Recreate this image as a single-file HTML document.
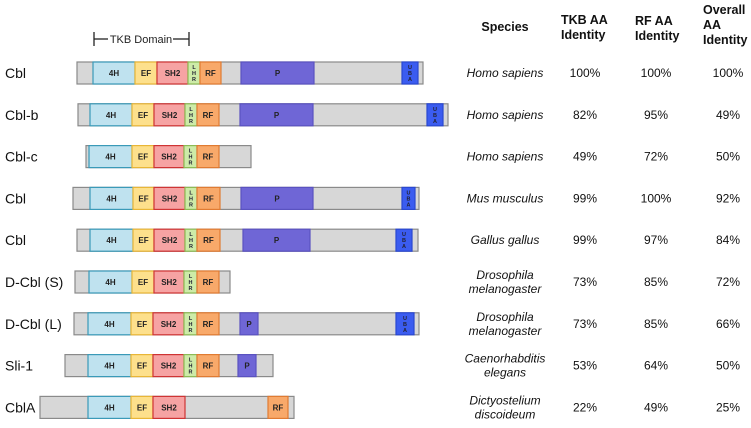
<!DOCTYPE html>
<html><head><meta charset="utf-8">
<style>
body{margin:0;background:#fff;font-family:"Liberation Sans",Arial,sans-serif;}
svg{display:block}
</style></head><body>
<svg id="c" width="751" height="428" viewBox="0 0 751 428">
<g stroke="#222" stroke-width="1.3">
<line x1="94" y1="32" x2="94" y2="46"/><line x1="94" y1="39" x2="108" y2="39"/>
<line x1="173" y1="39" x2="189" y2="39"/><line x1="189" y1="32" x2="189" y2="46"/>
</g>
<text x="141" y="43" font-size="11" text-anchor="middle" fill="#222">TKB Domain</text>
<g font-weight="bold" font-size="12.5" fill="#111">
<text x="505" y="31" text-anchor="middle">Species</text>
<text x="561" y="24"><tspan x="561">TKB AA</tspan><tspan x="561" dy="15">Identity</tspan></text>
<text x="635" y="25"><tspan x="635">RF AA</tspan><tspan x="635" dy="15">Identity</tspan></text>
<text x="703" y="14"><tspan x="703">Overall</tspan><tspan x="703" dy="15">AA</tspan><tspan x="703" dy="15">Identity</tspan></text>
</g>
<g id="rows"></g>
</svg>
<script>
const names=["Cbl","Cbl-b","Cbl-c","Cbl","Cbl","D-Cbl (S)","D-Cbl (L)","Sli-1","CblA"];
const species=[["Homo sapiens"],["Homo sapiens"],["Homo sapiens"],["Mus musculus"],["Gallus gallus"],["Drosophila","melanogaster"],["Drosophila","melanogaster"],["Caenorhabditis","elegans"],["Dictyostelium","discoideum"]];
const tkb=["100%","82%","49%","99%","99%","73%","73%","53%","22%"];
const rf=["100%","95%","72%","100%","97%","85%","85%","64%","49%"];
const overall=["100%","49%","50%","92%","84%","72%","66%","50%","25%"];
const bars=[[77,423],[78,448],[86,251],[73,419],[77,418],[75,230],[74,419],[65,273],[40,294]];
const domains=[
 [["4H",93,135],["EF",135,157],["SH2",157,188],["LHR",188,200],["RF",200,221],["P",241,314],["UBA",402,418]],
 [["4H",90,132],["EF",132,154],["SH2",154,185],["LHR",185,197],["RF",197,219],["P",240,313],["UBA",427,443]],
 [["4H",89,132],["EF",132,154],["SH2",154,184],["LHR",184,197],["RF",197,219]],
 [["4H",90,133],["EF",133,154],["SH2",154,185],["LHR",185,197],["RF",197,220],["P",241,313],["UBA",402,415]],
 [["4H",90,133],["EF",133,154],["SH2",154,185],["LHR",185,197],["RF",197,220],["P",243,310],["UBA",396,412]],
 [["4H",89,132],["EF",132,154],["SH2",154,184],["LHR",184,197],["RF",197,219]],
 [["4H",88,131],["EF",131,153],["SH2",153,184],["LHR",184,197],["RF",197,219],["P",240,258],["UBA",396,414]],
 [["4H",88,131],["EF",131,153],["SH2",153,184],["LHR",184,197],["RF",197,219],["P",238,256]],
 [["4H",88,131],["EF",131,153],["SH2",153,185],["RF",268,288]]
];
const fills={"4H":"#bfe2ef","EF":"#fde08c","SH2":"#f6a3a3","LHR":"#cdeba8","RF":"#f8a96a","P":"#6f66d6","UBA":"#3b5cf0"};
const strokes={"4H":"#3a9ab8","EF":"#e9b637","SH2":"#cf3434","LHR":"#8dbb55","RF":"#e07b32","P":"#5a52c0","UBA":"#2a48d0"};
const NS="http://www.w3.org/2000/svg";
const g=document.getElementById("rows");
function rowY(i){return 73+i*41.8;}
function mk(tag,attrs,parent){const e=document.createElementNS(NS,tag);for(const k in attrs)e.setAttribute(k,attrs[k]);parent.appendChild(e);return e;}
names.forEach((n,i)=>{
 const y=rowY(i);
 const row=mk("g",{},g);
 
 
 const lab=mk("text",{x:5,y:y+5,"font-size":14,fill:"#111"},row);lab.textContent=n;
 
 
 const b=bars[i];
 const bg=mk("rect",{x:b[0],y:y-11,width:b[1]-b[0],height:22,fill:"#d7d7d7",stroke:"#8a8a8a","stroke-width":1.2},row);
 
 
 domains[i].forEach(d=>{
  const r=mk("rect",{x:d[1],y:y-11,width:d[2]-d[1],height:22,fill:fills[d[0]],stroke:strokes[d[0]],"stroke-width":1.2},row);
  
  
  const cx=(d[1]+d[2])/2;
  if(d[0]==="LHR"||d[0]==="UBA"){
   const t=mk("text",{x:cx,y:y-4,"font-size":5.5,"font-weight":"bold","text-anchor":"middle",fill:"#223"},row);
   d[0].split("").forEach((ch,k)=>{const s=mk("tspan",{x:cx,dy:k?6:0},t);s.textContent=ch;});
  }else{
   const t=mk("text",{x:cx,y:y+3,"font-size":8,"font-weight":"bold","text-anchor":"middle",fill:"#222"},row);t.textContent=d[0];
  }
 });
 const sp=species[i];
 const st=mk("text",{x:505,y:sp.length>1?y-3:y+4,"font-size":12,"font-style":"italic","text-anchor":"middle",fill:"#111"},row);
 sp.forEach((s,k)=>{const ts=mk("tspan",{x:505,dy:k?14:0},st);ts.textContent=s;});
 
 
 [[585,tkb],[656,rf],[728,overall]].forEach(([x,arr])=>{
  const t=mk("text",{x:x,y:y+4,"font-size":12,"text-anchor":"middle",fill:"#111"},row);t.textContent=arr[i];
  
  
 });
});
</script>
</body></html>
